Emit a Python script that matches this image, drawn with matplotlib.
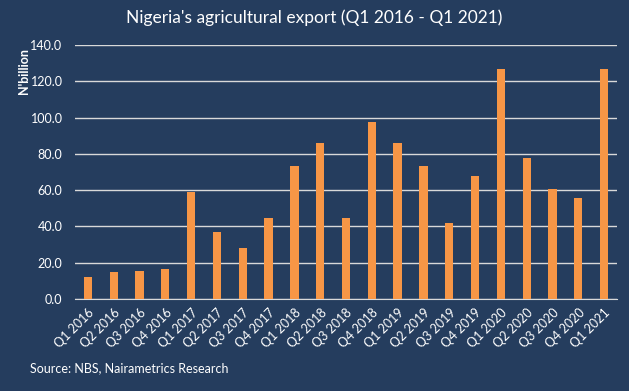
import matplotlib.pyplot as plt
import numpy as np

# chart data
quarters = ["Q1 2016", "Q2 2016", "Q3 2016", "Q4 2016",
            "Q1 2017", "Q2 2017", "Q3 2017", "Q4 2017",
            "Q1 2018", "Q2 2018", "Q3 2018", "Q4 2018",
            "Q1 2019", "Q2 2019", "Q3 2019", "Q4 2019",
            "Q1 2020", "Q2 2020", "Q3 2020", "Q4 2020",
            "Q1 2021"]
export_values = [12.3, 15.0, 15.6, 16.5,
                 58.8, 37.0, 28.3, 44.5,
                 73.2, 86.0, 44.6, 97.6,
                 85.9, 73.4, 41.7, 68.0,
                 126.6, 77.6, 60.6, 55.8,
                 126.6]
y_ticks = [0, 20, 40, 60, 80, 100, 120, 140]

bg = "#253D5E"
bar_color = "#F79646"
grid_color = "#D9D9D9"
text_color = "#FFFFFF"

plt.rcParams["font.family"] = ["Lato", "DejaVu Sans"]

fig = plt.figure(figsize=(6.29, 3.91), dpi=100, facecolor=bg)
ax = fig.add_axes([75 / 629, 1 - 299 / 391, (617 - 75) / 629, (299 - 45) / 391])
ax.set_facecolor(bg)

x = np.arange(len(quarters))
ax.bar(x, export_values, width=0.32, color=bar_color, zorder=3)

ax.set_xlim(-0.5, len(quarters) - 0.5)
ax.set_ylim(0, 140)
ax.set_yticks(y_ticks, [f"{v:.1f}" for v in y_ticks])
ax.set_xticks(x, quarters, rotation=45, ha="right", rotation_mode="anchor")
ax.tick_params(length=0, colors=text_color, labelsize=9)
ax.tick_params(axis="y", pad=9)
ax.tick_params(axis="x", pad=5)

ax.grid(axis="y", color=grid_color, linewidth=1.0, zorder=0)
for s in ["top", "right", "left"]:
    ax.spines[s].set_visible(False)
ax.spines["bottom"].set_color(grid_color)

fig.text(0.5, 1 - 18 / 391, "Nigeria's agricultural export (Q1 2016 - Q1 2021)",
         ha="center", va="center", color=text_color, fontsize=12.5)
fig.text(24 / 629, 1 - 71 / 391, "N'billion", rotation=90, ha="center", va="center",
         color=text_color, fontsize=9, fontweight="bold")
fig.text(30 / 629, 1 - 368 / 391, "Source: NBS, Nairametrics Research",
         ha="left", va="center", color=text_color, fontsize=9)

fig.savefig("out.png", dpi=100, facecolor=bg)
